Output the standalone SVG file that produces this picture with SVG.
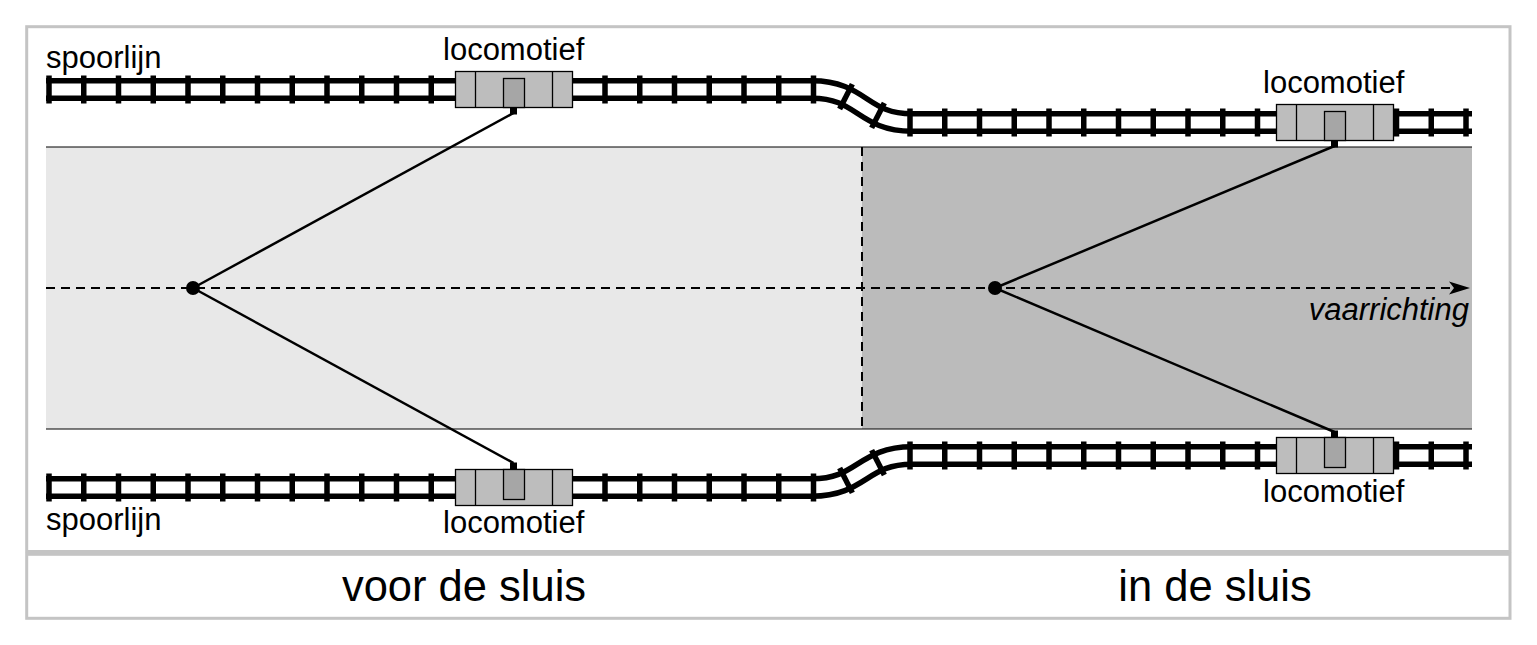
<svg xmlns="http://www.w3.org/2000/svg" xmlns:xlink="http://www.w3.org/1999/xlink" width="1537" height="645" viewBox="0 0 1537 645">
<style>
.frame{fill:none;stroke:#c4c4c4;stroke-width:3}
.lbl{font-family:"Liberation Sans",Arial,sans-serif;font-size:31px;fill:#000}
.big{font-family:"Liberation Sans",Arial,sans-serif;font-size:43.5px;fill:#000;text-anchor:middle}
.railo{fill:none;stroke:#000;stroke-width:23}
.raili{fill:none;stroke:#fff;stroke-width:12}
.loco{fill:#bdbdbd;stroke:#000;stroke-width:1.3}
.inner{fill:#a6a6a6;stroke:#000;stroke-width:1.3}
.div{stroke:#000;stroke-width:1.3}
.conn{stroke:#000;stroke-width:2.5;fill:none}
.dash{stroke:#000;stroke-width:2;stroke-dasharray:9 6;fill:none}
.edge{stroke:#000;stroke-width:1}
</style>
<defs>
<rect id="tie" x="-2.75" y="-14" width="5.5" height="28" fill="#000"/>
<g id="locoTop">
<rect class="loco" x="0" y="0" width="117" height="36"/>
<line class="div" x1="20" y1="0" x2="20" y2="36"/>
<line class="div" x1="97" y1="0" x2="97" y2="36"/>
<rect class="inner" x="48" y="7" width="21" height="29"/>
<rect x="54.5" y="36" width="7" height="7" fill="#000"/>
</g>
<g id="locoBot">
<rect class="loco" x="0" y="0" width="117" height="36"/>
<line class="div" x1="20" y1="0" x2="20" y2="36"/>
<line class="div" x1="97" y1="0" x2="97" y2="36"/>
<rect class="inner" x="48" y="0" width="21" height="30"/>
<rect x="54.5" y="-7" width="7" height="7" fill="#000"/>
</g>
</defs>
<rect width="1537" height="645" fill="#fff"/>
<g id="frame">
<rect class="frame" x="26.7" y="26.7" width="1483.3" height="524.8"/>
<rect class="frame" x="26.7" y="554.3" width="1483.3" height="64"/>
</g>
<g id="water">
<rect x="46" y="147" width="816" height="282" fill="#e8e8e8"/>
<rect x="862" y="147" width="610" height="282" fill="#bbbbbb"/>
<line class="edge" x1="46" y1="147" x2="1472" y2="147"/>
<line class="edge" x1="46" y1="429" x2="1472" y2="429"/>
<line class="dash" x1="862" y1="147" x2="862" y2="429"/>
</g>
<g id="track-top">
<path class="railo" d="M46,89.5 H812 C862,89.5 862,122.5 912,122.5 H1472"/>
<path class="raili" d="M46,89.5 H812 C862,89.5 862,122.5 912,122.5 H1472"/>
<use href="#tie" x="49" y="89.5"/><use href="#tie" x="83.75" y="89.5"/><use href="#tie" x="118.5" y="89.5"/><use href="#tie" x="153.25" y="89.5"/><use href="#tie" x="188" y="89.5"/><use href="#tie" x="222.75" y="89.5"/><use href="#tie" x="257.5" y="89.5"/><use href="#tie" x="292.25" y="89.5"/><use href="#tie" x="327" y="89.5"/><use href="#tie" x="361.75" y="89.5"/><use href="#tie" x="396.5" y="89.5"/><use href="#tie" x="431.25" y="89.5"/><use href="#tie" x="605" y="89.5"/><use href="#tie" x="639.75" y="89.5"/><use href="#tie" x="674.5" y="89.5"/><use href="#tie" x="709.25" y="89.5"/><use href="#tie" x="744" y="89.5"/><use href="#tie" x="778.75" y="89.5"/><use href="#tie" x="813.5" y="89.5"/>
<use href="#tie" transform="translate(846,96.6) rotate(27)"/>
<use href="#tie" transform="translate(878,115.4) rotate(27)"/>
<use href="#tie" x="910" y="122.5"/><use href="#tie" x="944.75" y="122.5"/><use href="#tie" x="979.5" y="122.5"/><use href="#tie" x="1014.25" y="122.5"/><use href="#tie" x="1049" y="122.5"/><use href="#tie" x="1083.75" y="122.5"/><use href="#tie" x="1118.5" y="122.5"/><use href="#tie" x="1153.25" y="122.5"/><use href="#tie" x="1188" y="122.5"/><use href="#tie" x="1222.75" y="122.5"/><use href="#tie" x="1257.5" y="122.5"/><use href="#tie" x="1396.5" y="122.5"/><use href="#tie" x="1431.25" y="122.5"/><use href="#tie" x="1466" y="122.5"/>
</g>
<g id="track-bottom">
<path class="railo" d="M46,487.5 H812 C862,487.5 862,455.5 912,455.5 H1472"/>
<path class="raili" d="M46,487.5 H812 C862,487.5 862,455.5 912,455.5 H1472"/>
<use href="#tie" x="49" y="487.5"/><use href="#tie" x="83.75" y="487.5"/><use href="#tie" x="118.5" y="487.5"/><use href="#tie" x="153.25" y="487.5"/><use href="#tie" x="188" y="487.5"/><use href="#tie" x="222.75" y="487.5"/><use href="#tie" x="257.5" y="487.5"/><use href="#tie" x="292.25" y="487.5"/><use href="#tie" x="327" y="487.5"/><use href="#tie" x="361.75" y="487.5"/><use href="#tie" x="396.5" y="487.5"/><use href="#tie" x="431.25" y="487.5"/><use href="#tie" x="605" y="487.5"/><use href="#tie" x="639.75" y="487.5"/><use href="#tie" x="674.5" y="487.5"/><use href="#tie" x="709.25" y="487.5"/><use href="#tie" x="744" y="487.5"/><use href="#tie" x="778.75" y="487.5"/><use href="#tie" x="813.5" y="487.5"/>
<use href="#tie" transform="translate(846,480.4) rotate(-27)"/>
<use href="#tie" transform="translate(878,462.6) rotate(-27)"/>
<use href="#tie" x="910" y="455.5"/><use href="#tie" x="944.75" y="455.5"/><use href="#tie" x="979.5" y="455.5"/><use href="#tie" x="1014.25" y="455.5"/><use href="#tie" x="1049" y="455.5"/><use href="#tie" x="1083.75" y="455.5"/><use href="#tie" x="1118.5" y="455.5"/><use href="#tie" x="1153.25" y="455.5"/><use href="#tie" x="1188" y="455.5"/><use href="#tie" x="1222.75" y="455.5"/><use href="#tie" x="1257.5" y="455.5"/><use href="#tie" x="1396.5" y="455.5"/><use href="#tie" x="1431.25" y="455.5"/><use href="#tie" x="1466" y="455.5"/>
</g>
<g id="connectors">
<line class="dash" x1="46" y1="288" x2="1456" y2="288"/>
<path d="M1470,288 L1449,281.5 L1454,288 L1449,294.5 Z" fill="#000"/>
<line class="conn" x1="193" y1="288" x2="513.5" y2="113"/>
<line class="conn" x1="193" y1="288" x2="513.5" y2="463"/>
<line class="conn" x1="995" y1="288" x2="1334.5" y2="146"/>
<line class="conn" x1="995" y1="288" x2="1334.5" y2="432"/>
</g>
<g id="pivot-left"><circle cx="193" cy="288" r="7" fill="#000"/></g>
<g id="pivot-right"><circle cx="995" cy="288" r="7" fill="#000"/></g>
<g id="loco-top-left"><use href="#locoTop" x="455.5" y="71.5"/><text class="lbl" x="443" y="60">locomotief</text></g>
<g id="loco-top-right"><use href="#locoTop" x="1276.5" y="104.5"/><text class="lbl" x="1263" y="93">locomotief</text></g>
<g id="loco-bottom-left"><use href="#locoBot" x="455.5" y="469.5"/><text class="lbl" x="443" y="533">locomotief</text></g>
<g id="loco-bottom-right"><use href="#locoBot" x="1276.5" y="437.5"/><text class="lbl" x="1263" y="502">locomotief</text></g>
<g id="labels">
<text class="lbl" x="46" y="68">spoorlijn</text>
<text class="lbl" x="46" y="530">spoorlijn</text>
<text class="lbl" x="1469" y="320" text-anchor="end" font-style="italic">vaarrichting</text>
<text class="big" x="464" y="601">voor de sluis</text>
<text class="big" x="1215" y="601">in de sluis</text>
</g>
</svg>
